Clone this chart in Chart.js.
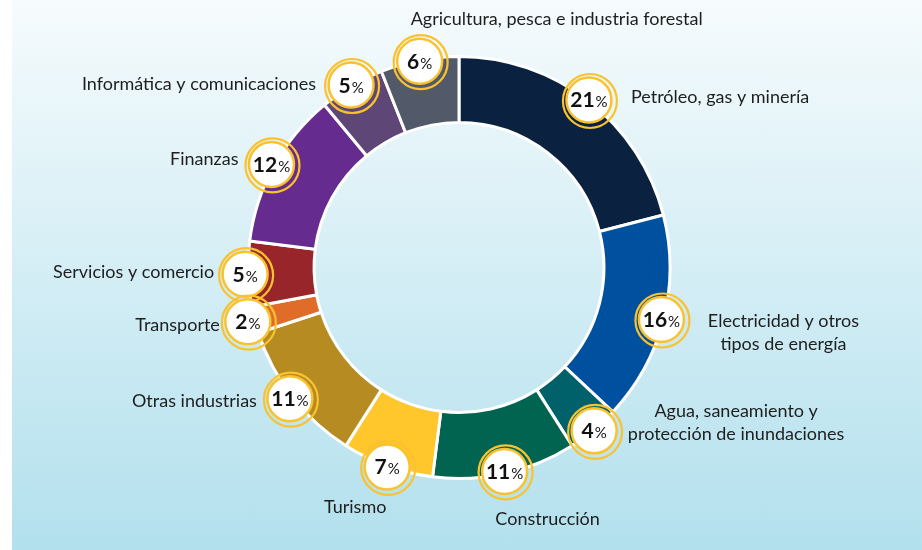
<!DOCTYPE html>
<html><head><meta charset="utf-8">
<script src="https://cdn.jsdelivr.net/npm/chart.js@4/dist/chart.umd.min.js"></script>
<style>
html,body{margin:0;padding:0;background:#fff;}
#wrap{position:relative;width:922px;height:550px;overflow:hidden;}
#bg{position:absolute;left:12px;top:0;right:0;bottom:0;background:linear-gradient(to bottom,#f6fbfd 0%,#b2e0ed 100%);}
canvas{position:absolute;left:0;top:0;}
</style></head><body>
<div id="wrap"><div id="bg"></div><canvas id="c" width="922" height="550"></canvas></div>
<script>
// ---- data ----
const categories = [
  ["Petróleo, gas y minería"],
  ["Electricidad y otros", "tipos de energía"],
  ["Agua, saneamiento y", "protección de inundaciones"],
  ["Construcción"],
  ["Turismo"],
  ["Otras industrias"],
  ["Transporte"],
  ["Servicios y comercio"],
  ["Finanzas"],
  ["Informática y comunicaciones"],
  ["Agricultura, pesca e industria forestal"]
];
const shares = [21, 16, 4, 11, 7, 11, 2, 5, 12, 5, 6];
const sliceColors = ["#0b2140", "#0050a0", "#00616a", "#006450", "#ffc72c", "#b68c22",
                     "#e06c2a", "#97252a", "#662b8e", "#5e4677", "#525969"];

// ---- label layout (offsets from badge centre) ----
const badgeShift = [1, -2, 1, -2, 1, 3, 7, 3, 3, 1, -1];
const labelLayout = [
  {dx: 42, dy: -3, align: "left"},
  {dx: 122, dy: 2, align: "center"},
  {dx: 142, dy: -20, align: "center"},
  {dx: 43, dy: 48, align: "center"},
  {dx: -32, dy: 40, align: "center"},
  {dx: -33, dy: 3, align: "right"},
  {dx: -28, dy: 3, align: "right"},
  {dx: -31, dy: -2, align: "right"},
  {dx: -33, dy: -5, align: "right"},
  {dx: -35, dy: -1, align: "right"},
  {dx: 137, dy: -42, align: "center"}
];
const YEL = "#f9c22e";
const FONT = "Lato";

const badgePlugin = {
  id: "badges",
  afterDatasetsDraw(chart) {
    const ctx = chart.ctx;
    const meta = chart.getDatasetMeta(0);
    const order = meta.data.map((a, i) => i).reverse();
    order.forEach(i => {
      const arc = meta.data[i];
      const p = arc.getProps(["x", "y", "startAngle", "endAngle", "outerRadius"], true);
      const mid = (p.startAngle + p.endAngle) / 2;
      const r = p.outerRadius + badgeShift[i];
      const bx = p.x + Math.cos(mid) * r, by = p.y + Math.sin(mid) * r;
      ctx.save();
      ctx.strokeStyle = YEL;
      ctx.lineWidth = 2.2;
      ctx.beginPath(); ctx.arc(bx + 1, by + 1, 27, 0, Math.PI * 2); ctx.stroke();
      ctx.beginPath(); ctx.arc(bx, by, 22.5, 0, Math.PI * 2);
      ctx.fillStyle = "#ffffff"; ctx.fill();
      ctx.lineWidth = 2.5; ctx.stroke();
      const num = String(shares[i]);
      ctx.font = "bold 21px " + FONT; const w1 = ctx.measureText(num).width;
      ctx.font = "15px " + FONT; const w2 = ctx.measureText("%").width;
      const sx = bx - (w1 + w2 + 1) / 2;
      ctx.fillStyle = "#111111"; ctx.textAlign = "left"; ctx.textBaseline = "alphabetic";
      ctx.font = "bold 21px " + FONT; ctx.fillText(num, sx, by + 7.5);
      ctx.font = "15px " + FONT; ctx.fillText("%", sx + w1 + 1, by + 7.5);
      ctx.restore();
    });
    // labels
    meta.data.forEach((arc, i) => {
      const p = arc.getProps(["x", "y", "startAngle", "endAngle", "outerRadius"], true);
      const mid = (p.startAngle + p.endAngle) / 2;
      const r = p.outerRadius + badgeShift[i];
      const bx = p.x + Math.cos(mid) * r, by = p.y + Math.sin(mid) * r;
      const L = labelLayout[i];
      ctx.save();
      ctx.font = "18px " + FONT;
      ctx.fillStyle = "#1e1e1e";
      ctx.textAlign = L.align; ctx.textBaseline = "middle";
      categories[i].forEach((line, k) => {
        ctx.fillText(line, bx + L.dx, by + L.dy + k * 23);
      });
      ctx.restore();
    });
  }
};

new Chart(document.getElementById("c"), {
  type: "doughnut",
  data: {
    labels: categories.map(c => c.join(" ")),
    datasets: [{
      data: shares,
      backgroundColor: sliceColors,
      borderColor: "#ffffff",
      borderWidth: 3
    }]
  },
  options: {
    responsive: false,
    animation: false,
    cutout: "68.7%",
    layout: {padding: {left: 100, right: 104, top: 55, bottom: 70}},
    plugins: {legend: {display: false}, tooltip: {enabled: false}}
  },
  plugins: [badgePlugin]
});
</script>
</body></html>
